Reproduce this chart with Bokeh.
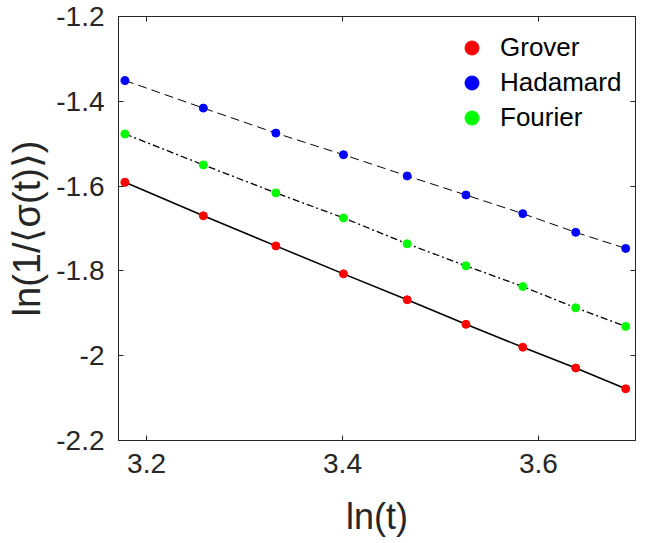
from bokeh.plotting import figure
from bokeh.models import (ColumnDataSource, Range1d, LinearAxis, FixedTicker,
                          CustomJSTickFormatter, Legend, LegendItem)
from bokeh.embed import file_html
from bokeh.resources import INLINE

# ---- data ----
ln_t = [3.178, 3.258, 3.332, 3.401, 3.466, 3.526, 3.584, 3.638, 3.689]
grover = [-1.591, -1.670, -1.741, -1.807, -1.868, -1.926, -1.980, -2.029, -2.078]
hadamard = [-1.351, -1.416, -1.475, -1.526, -1.576, -1.621, -1.665, -1.709, -1.747]
fourier = [-1.477, -1.550, -1.616, -1.675, -1.736, -1.788, -1.837, -1.887, -1.931]

series_names = ["Grover", "Hadamard", "Fourier"]
series_colors = ["#ff0000", "#0000ff", "#00ff00"]

x_ticks = [3.2, 3.4, 3.6]
x_tick_labels = ["3.2", "3.4", "3.6"]
y_ticks = [-2.2, -2.0, -1.8, -1.6, -1.4, -1.2]
y_tick_labels = ["-2.2", "-2", "-1.8", "-1.6", "-1.4", "-1.2"]

FONT = "Liberation Sans"
TXT = "#262626"

p = figure(width=656, height=543, output_backend="svg", toolbar_location=None,
           x_range=Range1d(3.1714, 3.699), y_range=Range1d(-2.2, -1.2),
           min_border_left=118, min_border_right=21, min_border_top=16,
           min_border_bottom=103)
p.background_fill_color = "white"
p.border_fill_color = "white"
p.grid.visible = False
p.outline_line_color = TXT
p.outline_line_width = 1

src = ColumnDataSource(dict(x=ln_t, g=grover, h=hadamard, f=fourier))

# lines
p.line("x", "g", source=src, line_color="black", line_width=1.6)
p.line("x", "h", source=src, line_color="black", line_width=1.0, line_dash="9 5")
p.line("x", "f", source=src, line_color="black", line_width=1.3, line_dash="7 3 2 3")

# markers
rs = []
for col, c in zip(["g", "h", "f"], series_colors):
    r = p.scatter("x", col, source=src, size=8, fill_color=c, line_color=c)
    rs.append(r)

legend = Legend(items=[LegendItem(label=n, renderers=[r]) for n, r in zip(series_names, rs)],
                location=(335, 305), border_line_color=None, background_fill_alpha=0,
                padding=0, margin=0, spacing=0, glyph_width=37, glyph_height=35,
                label_height=35, label_standoff=10,
                label_text_font=FONT, label_text_font_size="26px",
                label_text_color="black")
p.add_layout(legend, "center")

# axes
for ax in (p.xaxis[0], p.yaxis[0]):
    ax.major_tick_in = 5
    ax.major_tick_out = 0
    ax.minor_tick_line_color = None
    ax.axis_line_color = TXT
    ax.major_tick_line_color = TXT
    ax.major_label_text_font = FONT
    ax.major_label_text_font_size = "28px"
    ax.major_label_text_color = TXT
    ax.axis_label_text_font = FONT
    ax.axis_label_text_font_size = "36px"
    ax.axis_label_text_font_style = "normal"
    ax.axis_label_text_color = TXT

p.xaxis[0].ticker = FixedTicker(ticks=x_ticks)
p.xaxis[0].major_label_overrides = {t: l for t, l in zip(x_ticks, x_tick_labels)}
p.xaxis[0].major_label_standoff = 13
p.xaxis[0].axis_label = "ln(t)"
p.xaxis[0].axis_label_standoff = 20

p.yaxis[0].ticker = FixedTicker(ticks=y_ticks)
p.yaxis[0].major_label_overrides = {t: l for t, l in zip(y_ticks, y_tick_labels)}
p.yaxis[0].major_label_standoff = 14
p.yaxis[0].axis_label = "ln(1/⟨σ(t)⟩)"
p.yaxis[0].axis_label_text_font_size = "38px"
p.yaxis[0].axis_label_standoff = 5

blank = CustomJSTickFormatter(code="return ''")
top = LinearAxis(ticker=FixedTicker(ticks=x_ticks), formatter=blank,
                 major_tick_in=5, major_tick_out=0, minor_tick_line_color=None,
                 axis_line_color=TXT, major_tick_line_color=TXT,
                 major_label_standoff=0, major_label_text_font_size="1px")
right = LinearAxis(ticker=FixedTicker(ticks=y_ticks), formatter=blank,
                   major_tick_in=5, major_tick_out=0, minor_tick_line_color=None,
                   axis_line_color=TXT, major_tick_line_color=TXT,
                   major_label_standoff=0, major_label_text_font_size="1px")
p.add_layout(top, "above")
p.add_layout(right, "right")

open("out.html", "w").write(file_html(p, INLINE))
